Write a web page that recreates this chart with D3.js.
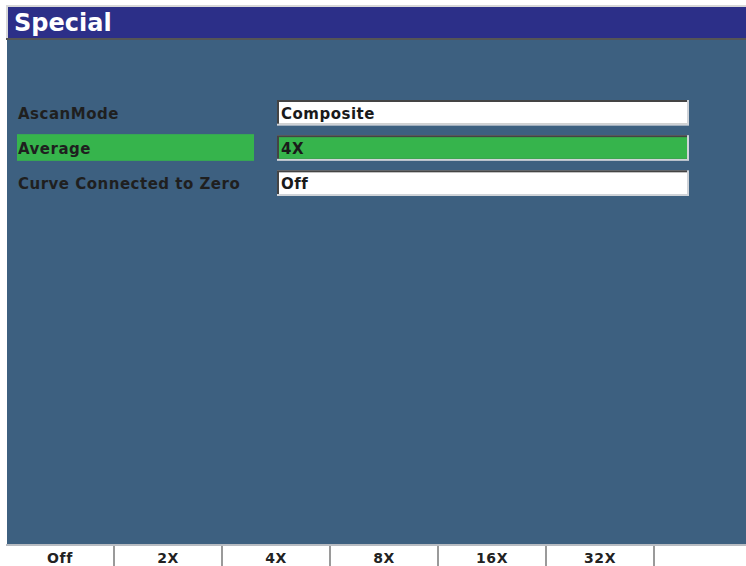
<!DOCTYPE html>
<html>
<head>
<meta charset="utf-8">
<script src="https://cdn.jsdelivr.net/npm/d3@7"></script>
<style>
  html, body { margin: 0; padding: 0; background: #fff; }
  svg { display: block; }
</style>
</head>
<body>
<div id="screen"></div>
<script>
/* menu contents */
const screenTitle = "Special";
const paramNames = ["AscanMode", "Average", "Curve Connected to Zero"];
const paramValues = ["Composite", "4X", "Off"];
const selectedParam = "Average";
const softKeys = ["Off", "2X", "4X", "8X", "16X", "32X", ""];

const totalWidth = 746;
const totalHeight = 566;
const panelBlue = "#3d6080";
const titleBlue = "#2c2f88";
const selGreen = "#36b44c";
const font = "'DejaVu Sans', Verdana, sans-serif";

var svg = d3.select("#screen")
  .append("svg")
    .attr("width", totalWidth)
    .attr("height", totalHeight);

/* title bar */
svg.append("rect").attr("x", 6).attr("y", 5).attr("width", totalWidth - 6).attr("height", 2).attr("fill", "#d8d8d8");
svg.append("rect").attr("x", 6).attr("y", 5).attr("width", 2).attr("height", 35).attr("fill", "#d8d8d8");
svg.append("rect").attr("x", 8).attr("y", 7).attr("width", totalWidth - 8).attr("height", 31).attr("fill", titleBlue);
svg.append("rect").attr("x", 6).attr("y", 38).attr("width", totalWidth - 6).attr("height", 2).attr("fill", "#555");
svg.append("text")
  .attr("x", 14).attr("y", 31)
  .attr("font-family", font).attr("font-weight", "bold").attr("font-size", 24)
  .attr("fill", "#fff")
  .text(screenTitle);

/* main panel */
svg.append("rect").attr("x", 7).attr("y", 40).attr("width", totalWidth - 7).attr("height", 505).attr("fill", panelBlue);

/* parameter rows */
var rowScale = d3.scaleBand()
  .domain(paramNames)
  .range([100, 196])
  .paddingInner(0.27)
  .paddingOuter(0);

var rows = svg.selectAll("g.row")
  .data(paramNames.map((n, i) => ({ name: n, value: paramValues[i] })))
  .enter()
  .append("g")
    .attr("class", "row")
    .attr("transform", d => "translate(0," + rowScale(d.name) + ")");

var bh = rowScale.bandwidth();

rows.filter(d => d.name === selectedParam)
  .append("rect")
    .attr("x", 17).attr("y", -1).attr("width", 237).attr("height", bh + 1)
    .attr("fill", selGreen);

rows.append("text")
  .attr("x", 18).attr("y", bh / 2 + 6)
  .attr("font-family", font).attr("font-weight", "bold").attr("font-size", 15)
  .attr("letter-spacing", 0.5)
  .attr("fill", "#1f1f1f")
  .text(d => d.name);

/* value boxes with bevel */
rows.append("rect")
  .attr("x", 277).attr("y", 0).attr("width", 412).attr("height", bh)
  .attr("fill", "#cfd3d8");
rows.append("rect")
  .attr("x", 277).attr("y", 0).attr("width", 410).attr("height", bh - 2)
  .attr("fill", "#444");
rows.append("rect")
  .attr("x", 279).attr("y", 2).attr("width", 408).attr("height", bh - 4)
  .attr("fill", d => d.name === selectedParam ? selGreen : "#fff");

rows.append("text")
  .attr("x", 281).attr("y", bh / 2 + 6)
  .attr("font-family", font).attr("font-weight", "bold").attr("font-size", 15)
  .attr("letter-spacing", 0.5)
  .attr("fill", "#1a1a1a")
  .text(d => d.value);

/* soft key bar */
var keyScale = d3.scaleBand()
  .domain(d3.range(softKeys.length))
  .range([6, 762]);

svg.append("rect").attr("x", 6).attr("y", 544).attr("width", totalWidth - 6).attr("height", 2).attr("fill", "#b8bcc2");
svg.append("rect").attr("x", 6).attr("y", 546).attr("width", totalWidth - 6).attr("height", 20).attr("fill", "#fff");

var keys = svg.selectAll("g.key")
  .data(softKeys)
  .enter()
  .append("g")
    .attr("class", "key")
    .attr("transform", (d, i) => "translate(" + keyScale(i) + ",546)");

keys.filter((d, i) => i > 0)
  .append("rect")
    .attr("x", -1).attr("y", 0).attr("width", 2).attr("height", 20)
    .attr("fill", "#9a9a9a");

keys.append("text")
  .attr("x", keyScale.bandwidth() / 2).attr("y", 17)
  .attr("text-anchor", "middle")
  .attr("font-family", font).attr("font-weight", "bold").attr("font-size", 14)
  .attr("letter-spacing", 0.6)
  .attr("fill", "#222")
  .text(d => d);
</script>
</body>
</html>
